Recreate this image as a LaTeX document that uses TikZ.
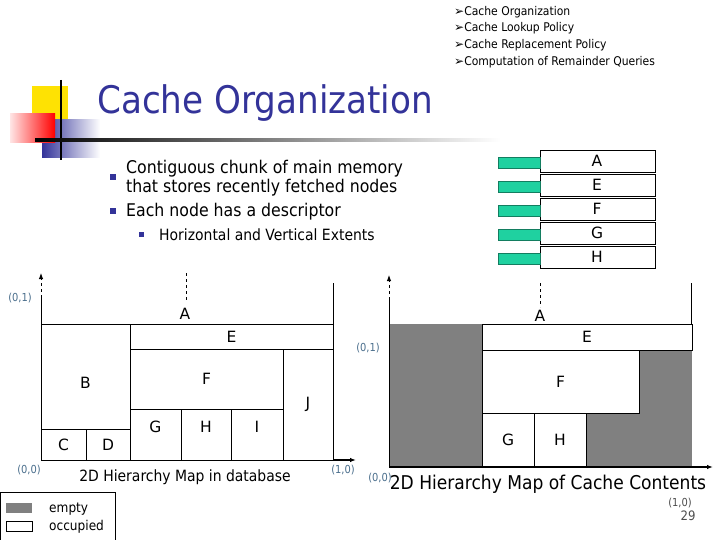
\documentclass[tikz,border=0pt]{standalone}
\usepackage{fontspec}
\setmainfont{DejaVu Sans}
\newfontfamily\condf{DejaVu Sans Condensed}
\usetikzlibrary{arrows.meta}
\definecolor{navy}{HTML}{333399}
\definecolor{teal}{HTML}{1FD1A0}
\definecolor{lbl}{HTML}{4A6E8C}
\definecolor{gfill}{HTML}{808080}
\tikzset{
  x=1pt,y=-1pt,
  cell/.style={draw,line width=0.8pt},
  lab/.style={font=\fontsize{15.5}{15.5}\selectfont},
  coord/.style={font=\fontsize{11}{11}\selectfont\condf,text=lbl},
  axis/.style={line width=1.2pt,-{Latex[length=6pt]}},
  dashln/.style={dashed,line width=0.9pt},
  desc/.style={draw,line width=0.6pt},
}
\begin{document}
\begin{tikzpicture}
\useasboundingbox (0,0) rectangle (720,540);
% top-right list
\foreach \t [count=\i] in {Cache Organization,Cache Lookup Policy,Cache Replacement Policy,Computation of Remainder Queries}
  \node[anchor=west,font=\fontsize{12}{12}\selectfont,inner sep=0] (l\i) at (454,12+16.6*\i-16.6) {➢\condf\t};
% logo
\fill[yellow!85!orange] (32,86) rectangle (68,122);
\shade[left color=navy, right color=white] (42,120) rectangle (100,158);
\shade[left color=red!10, right color=red] (10,114) rectangle (55,143);
\draw[line width=1.2pt] (61,80) -- (61,160);
\shade[left color=black, right color=white] (35,139) rectangle (500,142);
\node[anchor=west,text=navy,font=\fontsize{38}{38}\selectfont\condf,inner sep=0] (title) at (97,103) {Cache Organization};
% bullets
\fill[navy] (110,174) rectangle (116,180);
\fill[navy] (110,208) rectangle (116,214);
\fill[navy] (139,232) rectangle (144,237);
\node[anchor=west,inner sep=0,align=left,font=\fontsize{17.5}{18.5}\selectfont\condf] (b1) at (126,178) {Contiguous chunk of main memory\\that stores recently fetched nodes};
\node[anchor=west,inner sep=0,font=\fontsize{17.5}{18}\selectfont\condf] (b2) at (126,212) {Each node has a descriptor};
\node[anchor=west,inner sep=0,font=\fontsize{15.5}{16}\selectfont\condf] (b3) at (159,235) {Horizontal and Vertical Extents};
% descriptors
\foreach \t [count=\i] in {A,E,F,G,H}{
  \pgfmathsetmacro\yy{150+24*(\i-1)}
  \draw[desc] (540,\yy) rectangle (655,\yy+22);
  \node[lab] (d\i) at (597,\yy+11) {\t};
  \filldraw[fill=teal,draw=teal!60!black,line width=0.4pt] (498,\yy+7) rectangle (540,\yy+18);
}
% left map
\coordinate (o1) at (41,460);
\coordinate (y1) at (41,273);
\coordinate (x1) at (356,460);
\draw[line width=1pt] (41,460) -- (41,298);
\draw[dashln,-{Latex[length=6pt]}] (41,298) -- (y1);
\draw[line width=1pt] (333,283) -- (333,460);
\draw[dashln] (186,273) -- (186,302);
\node[lab] (A1) at (185,314) {A};
\draw[cell] (41,324) rectangle (130,429) node[midway,lab,yshift=-6pt] (B1) {B};
\draw[cell] (41,429) rectangle (86,460) node[midway,lab] (C1) {C};
\draw[cell] (86,429) rectangle (130,460) node[midway,lab] (D1) {D};
\draw[cell] (130,324) rectangle (333,349) node[midway,lab] (E1) {E};
\draw[cell] (130,349) rectangle (283,409) node[midway,lab] (F1) {F};
\draw[cell] (130,409) rectangle (181,460) node[midway,lab,yshift=8pt] (G1) {G};
\draw[cell] (181,409) rectangle (231,460) node[midway,lab,yshift=8pt] (H1) {H};
\draw[cell] (231,409) rectangle (283,460) node[midway,lab,yshift=8pt] (I1) {I};
\draw[cell] (283,349) rectangle (333,460) node[midway,lab] (J1) {J};
\draw[axis] (333,460) -- (x1);
\node[coord] (c01) at (20,298) {(0,1)};
\node[coord] (c00) at (29,470) {(0,0)};
\node[coord] (c10) at (343,470) {(1,0)};
\node[font=\fontsize{15.5}{15.5}\selectfont\condf] (cap1) at (185,477) {2D Hierarchy Map in database};
% legend
\draw[line width=0.8pt] (0,492) rectangle (115,545);
\fill[gfill] (6,503) rectangle (32,513);
\draw[line width=0.8pt] (6,521) rectangle (32,531);
\node[anchor=west,font=\fontsize{13.5}{13.5}\selectfont\condf,inner sep=0] (le) at (49,509) {empty};
\node[anchor=west,font=\fontsize{13.5}{13.5}\selectfont\condf,inner sep=0] (lo) at (49,527) {occupied};
% right map
\coordinate (y2) at (389,275);
\coordinate (x2) at (713,467);
\fill[gfill] (389,324) rectangle (482,467);
\fill[gfill] (586,413) rectangle (692,467);
\fill[gfill] (639,350) rectangle (692,413);
\draw[line width=1pt] (389,467) -- (389,300);
\draw[dashln,-{Latex[length=6pt]}] (389,300) -- (y2);
\draw[line width=1pt] (691,283) -- (691,324);
\draw[dashln] (540,283) -- (540,307);
\node[lab] (A2) at (540,316) {A};
\draw[cell,fill=white] (482,324) rectangle (692,350) node[midway,lab] (E2) {E};
\draw[cell,fill=white] (482,350) rectangle (639,413) node[midway,lab] (F2) {F};
\draw[cell,fill=white] (482,413) rectangle (534,467) node[midway,lab] (G2) {G};
\draw[cell,fill=white] (534,413) rectangle (586,467) node[midway,lab] (H2) {H};
\draw[axis] (389,467) -- (x2);
\node[coord] (c012) at (368,348) {(0,1)};
\node[coord] (c002) at (380,478) {(0,0)};
\node[coord,text=black!70] (c102) at (680,503) {(1,0)};
\node[font=\fontsize{13}{13}\selectfont\condf,text=black!70] (pg) at (688,516) {29};
\node[font=\fontsize{19}{19}\selectfont\condf] (cap2) at (548,484) {2D Hierarchy Map of Cache Contents};
\end{tikzpicture}
\end{document}
